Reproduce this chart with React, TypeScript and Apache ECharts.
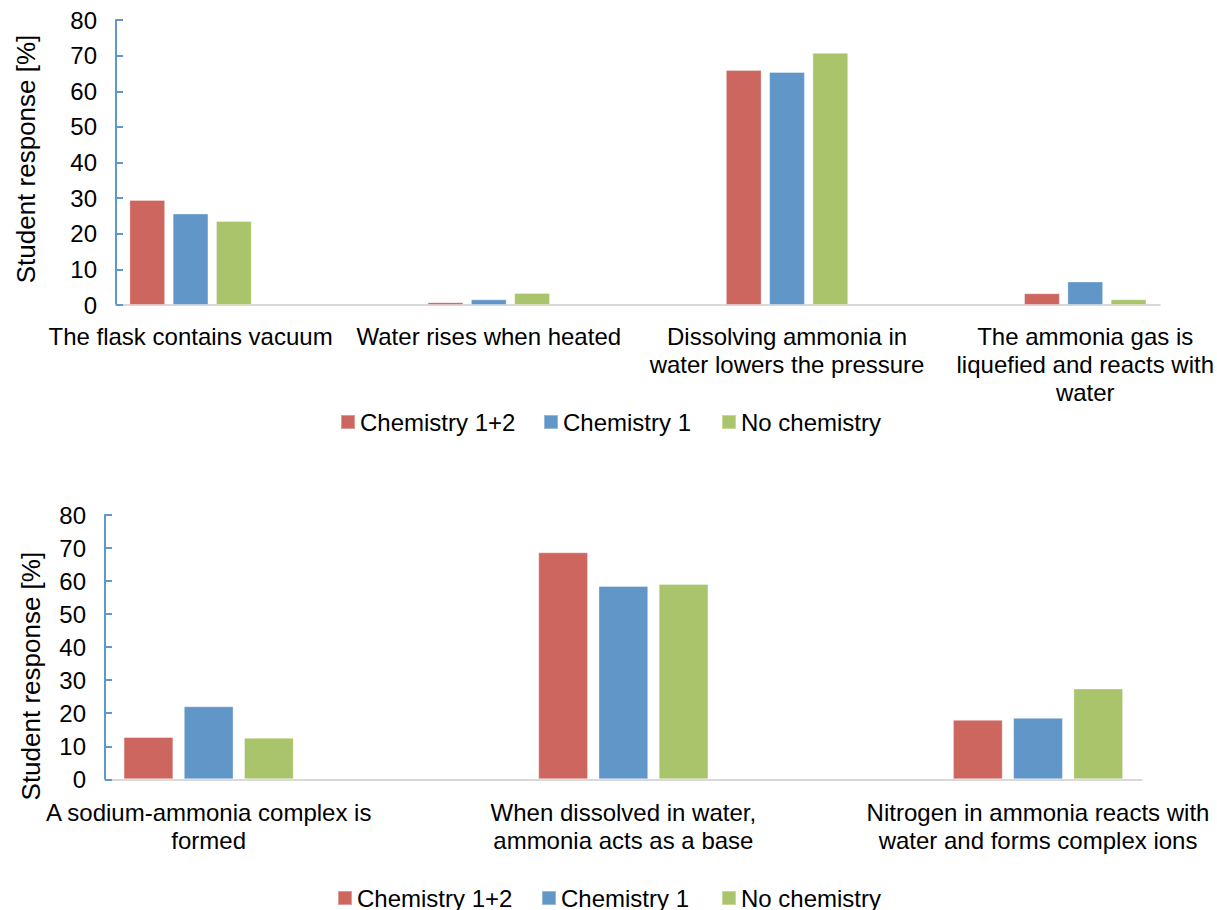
import React, { useEffect, useRef } from "react";
import * as echarts from "echarts";

// Response categories for the two questions
const topCategories = [
  "The flask contains vacuum",
  "Water rises when heated",
  "Dissolving ammonia in\nwater lowers the pressure",
  "The ammonia gas is\nliquefied and reacts with\nwater",
];
const bottomCategories = [
  "A sodium-ammonia complex is\nformed",
  "When dissolved in water,\nammonia acts as a base",
  "Nitrogen in ammonia reacts with\nwater and forms complex ions",
];

// Student groups
const groupNames = ["Chemistry 1+2", "Chemistry 1", "No chemistry"];
const groupColors = ["#CD665F", "#6096C8", "#AAC46B"];

// Share of students (%) per group, top question
const topChem12 = [29.5, 0.8, 66.0, 3.3];
const topChem1 = [25.7, 1.6, 65.4, 6.6];
const topNoChem = [23.6, 3.4, 70.8, 1.6];

// Share of students (%) per group, bottom question
const bottomChem12 = [12.8, 68.7, 18.0];
const bottomChem1 = [22.1, 58.5, 18.6];
const bottomNoChem = [12.6, 59.1, 27.5];

// Value axis ticks
const yMin = 0;
const yMax = 80;
const yStep = 10;

const FONT = "'Liberation Sans', Arial, Helvetica, sans-serif";

export default function App() {
  const ref = useRef<HTMLDivElement>(null);

  useEffect(() => {
    if (!ref.current) return;
    const chart = echarts.init(ref.current, undefined, { renderer: "svg" });

    const makeX = (gridIndex: number, cats: string[], labelMargin: number) => ({
      type: "value",
      gridIndex,
      min: -0.25,
      max: cats.length - 0.75,
      splitLine: { show: false },
      axisTick: { show: false },
      axisLine: { show: true, onZero: false, lineStyle: { color: "#D9D9D9", width: 2 } },
      axisLabel: {
        customValues: cats.map((_, i) => i),
        formatter: (v: number) => cats[Math.round(v)] ?? "",
        fontFamily: FONT,
        fontSize: 24,
        lineHeight: 28,
        color: "#000",
        margin: labelMargin,
        align: "center",
      },
    });

    // namePadding nudges the rotated title along the axis
    const makeY = (gridIndex: number, nameGap: number, namePadding: number[]) => ({
      type: "value",
      gridIndex,
      min: yMin,
      max: yMax,
      interval: yStep,
      name: "Student response [%]",
      nameLocation: "middle",
      nameGap,
      nameTextStyle: { fontFamily: FONT, fontSize: 26, color: "#000", padding: namePadding },
      splitLine: { show: false },
      axisLine: { show: true, onZero: false, lineStyle: { color: "#5E98D0", width: 2 } },
      axisTick: { show: true, inside: true, length: 7, lineStyle: { color: "#5E98D0", width: 2 } },
      axisLabel: { fontFamily: FONT, fontSize: 24, color: "#000", margin: 19 },
    });

    const makeSeries = (gridIndex: number, groups: number[][]) =>
      groups.map((vals, g) => ({
        type: "bar",
        name: groupNames[g],
        xAxisIndex: gridIndex,
        yAxisIndex: gridIndex,
        barWidth: "12%",
        barGap: "21%",
        itemStyle: {
          color: groupColors[g],
          borderColor: "rgba(255,255,255,0.35)",
          borderWidth: 1,
        },
        data: vals.map((v, i) => [i, v]),
      }));

    const makeLegend = (name: string, left: number, top: number) => ({
      data: [name],
      left,
      top,
      padding: 0,
      icon: "rect",
      itemWidth: 14,
      itemHeight: 14,
      selectedMode: false,
      textStyle: { fontFamily: FONT, fontSize: 24, color: "#000" },
    });

    chart.setOption({
      animation: false,
      backgroundColor: "#fff",
      textStyle: { fontFamily: FONT },
      grid: [
        { left: 116, width: 1044, top: 20, height: 285 },
        { left: 105, width: 1036.7, top: 515, height: 264.3 },
      ],
      xAxis: [makeX(0, topCategories, 17), makeX(1, bottomCategories, 19)],
      yAxis: [makeY(0, 77, [0, 0, 0, 7]), makeY(1, 61, [0, 58, 0, 0])],
      legend: [
        makeLegend(groupNames[0], 340, 410),
        makeLegend(groupNames[1], 543, 410),
        makeLegend(groupNames[2], 721, 410),
        makeLegend(groupNames[0], 337, 886),
        makeLegend(groupNames[1], 541, 886),
        makeLegend(groupNames[2], 721, 886),
      ],
      series: [
        ...makeSeries(0, [topChem12, topChem1, topNoChem]),
        ...makeSeries(1, [bottomChem12, bottomChem1, bottomNoChem]),
      ],
    });

    return () => chart.dispose();
  }, []);

  return (
    <div
      ref={ref}
      style={{ position: "fixed", left: 0, top: 0, width: 1217, height: 910, background: "#fff" }}
    />
  );
}
